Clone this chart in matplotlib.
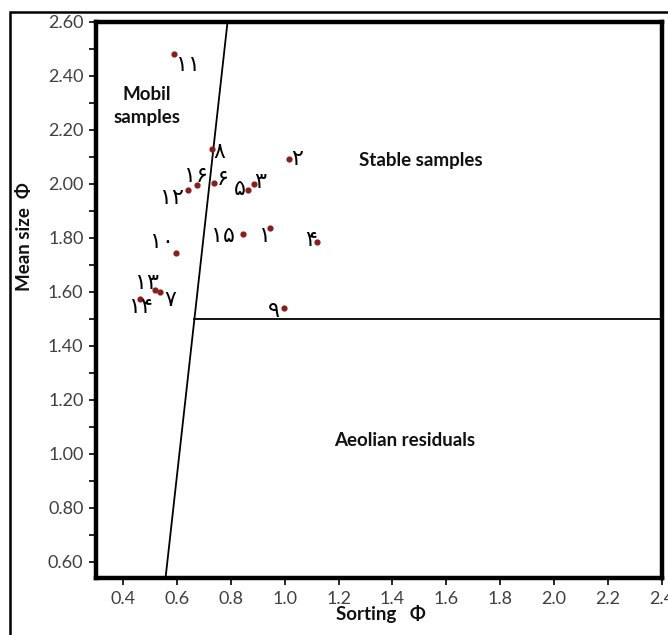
import matplotlib
matplotlib.use("Agg")
import matplotlib.pyplot as plt
from matplotlib.patches import Rectangle
from matplotlib.ticker import MultipleLocator, FormatStrFormatter

# sample number, sorting (phi), mean size (phi)
sample_ids = [1, 2, 3, 4, 5, 6, 7, 8, 9, 10, 11, 12, 13, 14, 15, 16]
sorting = [0.945, 1.016, 0.887, 1.12, 0.863, 0.739, 0.537, 0.729,
           0.996, 0.596, 0.588, 0.640, 0.520, 0.464, 0.846, 0.675]
mean_size = [1.838, 2.091, 1.998, 1.784, 1.976, 2.002, 1.600, 2.131,
             1.540, 1.744, 2.480, 1.976, 1.606, 1.573, 1.815, 1.997]

# label offsets in pixels (dx, dy) from each dot
label_offsets = {1: (-5, -8), 2: (8, 0), 3: (6, 2), 4: (-6, 2), 5: (-8, 1),
                 6: (8, 4), 7: (10, -8), 8: (8, -3), 9: (-10, -3),
                 10: (-14, 11), 11: (14, -11), 12: (-16, -8), 13: (-8, 7),
                 14: (1, -8), 15: (-20, -2), 16: (-1, 9)}

# boundary lines
divider_x = [0.558, 0.788]
divider_y = [0.54, 2.60]
residual_y = 1.50
residual_x_start = 0.665

persian = str.maketrans("0123456789", "۰۱۲۳۴۵۶۷۸۹")

fig = plt.figure(figsize=(6.68, 6.35), dpi=100)
ax = fig.add_axes([96 / 668, 1 - 578 / 635, 566 / 668, 556 / 635])

# outer frame around the whole picture
fig.patches.append(Rectangle((10 / 668, -0.1), 1.2, 1 - 12 / 635 + 0.1,
                             transform=fig.transFigure, fill=False,
                             edgecolor="black", linewidth=1.8))

ax.plot(divider_x, divider_y, color="black", lw=1.3)
ax.plot([residual_x_start, 2.4], [residual_y, residual_y], color="black", lw=1.3)

ax.scatter(sorting, mean_size, s=12, color="#8b1c1c", zorder=3)
for sid, x, y in zip(sample_ids, sorting, mean_size):
    ax.annotate(str(sid).translate(persian), (x, y),
                xytext=label_offsets[sid], textcoords="offset pixels",
                ha="center", va="center", fontsize=16,
                family=["DejaVu Sans"], color="black")

ax.set_xlim(0.30, 2.4)
ax.set_ylim(0.54, 2.6)
ax.yaxis.set_major_locator(MultipleLocator(0.2))
ax.yaxis.set_minor_locator(MultipleLocator(0.1))
ax.yaxis.set_major_formatter(FormatStrFormatter("%.2f"))
ax.set_xticks([0.4 + 0.2 * i for i in range(11)])
ax.xaxis.set_major_formatter(FormatStrFormatter("%.1f"))

ax.tick_params(axis="both", which="both", direction="out", width=1.2,
               color="black", labelcolor="#404040", labelsize=13)
ax.tick_params(axis="both", which="major", length=5, pad=4)
ax.tick_params(axis="y", which="minor", length=5)
for lab in ax.get_xticklabels() + ax.get_yticklabels():
    lab.set_family("Lato")

for sp in ax.spines.values():
    sp.set_linewidth(3.2)

tfont = dict(family="Lato", fontweight="bold", color="#111111", fontsize=13.5)
ax.text(0.489, 2.289, "Mobil\nsamples", ha="center", va="center",
        linespacing=1.45, **tfont)
ax.text(1.506, 2.085, "Stable samples", ha="center", va="center", **tfont)
ax.text(1.447, 1.051, "Aeolian residuals", ha="center", va="center", **tfont)

fig.text(381 / 668, 1 - 614 / 635, "Sorting   Φ", ha="center", va="center",
         **tfont)
fig.text(25 / 668, 1 - 237 / 635, "Mean size  Φ", ha="center", va="center",
         rotation=90, **tfont)

fig.savefig("out.png", dpi=100)
